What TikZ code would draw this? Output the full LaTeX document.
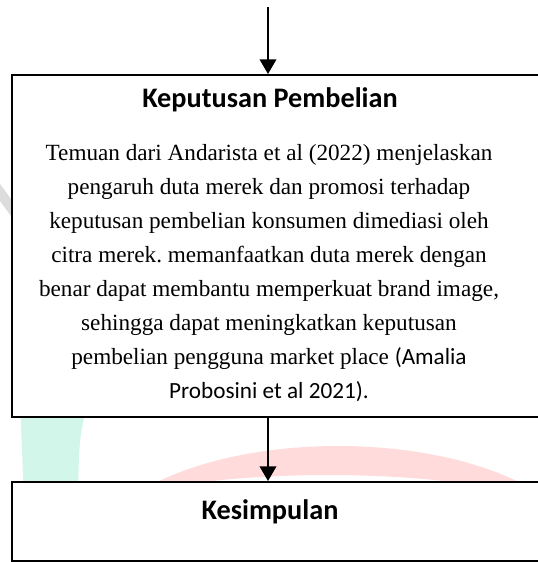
\documentclass[tikz,border=0pt]{standalone}
\usepackage{fontspec}
\setmainfont{Liberation Serif}
\newfontfamily\calibri{Carlito}
\usepackage{xcolor}
\usetikzlibrary{positioning, arrows.meta}
\definecolor{mark-green}{HTML}{D3F6EA}
\definecolor{mark-red}{HTML}{FFDBDB}
\definecolor{mark-gray}{HTML}{DCDCDC}
\frenchspacing

\begin{document}
\begin{tikzpicture}[
    x=0.75pt, y=-0.75pt,
    frame/.style={draw, line width=1.5pt, fill=white, inner sep=0pt},
    judul/.style={font=\calibri\bfseries\fontsize{21.2}{25}\selectfont},
    isi/.style={font=\fontsize{17.4}{25.5}\selectfont, align=center},
    panah/.style={line width=1.1pt, -{Triangle[width=12.5pt, length=11pt]}},
]
    \useasboundingbox (0,0) rectangle (537,562);

    % Watermark
    \fill[mark-gray] (0,184) -- (11,199) -- (11,216) -- (0,201) -- cycle;
    \fill[mark-green] (20,400) .. controls (21,450) .. (24,500) -- (78,500) .. controls (79,440) .. (88,400) -- cycle;
    \fill[mark-red, even odd rule] (338,560) ellipse [x radius=248, y radius=114]
        (328,560) ellipse [x radius=314, y radius=85];

    % Keputusan Pembelian
    \node[frame, minimum width=399.75pt, minimum height=256.5pt] (keputusan) at (278.5,246) {};
    \node[judul] (judul1) at (270,100) {Keputusan Pembelian};
    \node[isi] (isi1) at (269,273) {Temuan dari Andarista et al (2022) menjelaskan\\
        pengaruh duta merek dan promosi terhadap\\
        keputusan pembelian konsumen dimediasi oleh\\
        citra merek. memanfaatkan duta merek dengan\\
        benar dapat membantu memperkuat brand image,\\
        sehingga dapat meningkatkan keputusan\\
        pembelian pengguna market place {\calibri (Amalia}\\
        {\calibri Probosini et al 2021).}};

    % Kesimpulan
    \node[frame, minimum width=399.75pt, minimum height=59.25pt] (kesimpulan) at (278.5,521.5) {};
    \node[judul] (judul2) at (270,512) {Kesimpulan};

    % Arrows
    \coordinate (masuk) at (268,7);
    \draw[panah] (masuk) -- (masuk |- keputusan.north);
    \draw[panah] (masuk |- keputusan.south) -- (masuk |- kesimpulan.north);
\end{tikzpicture}
\end{document}
